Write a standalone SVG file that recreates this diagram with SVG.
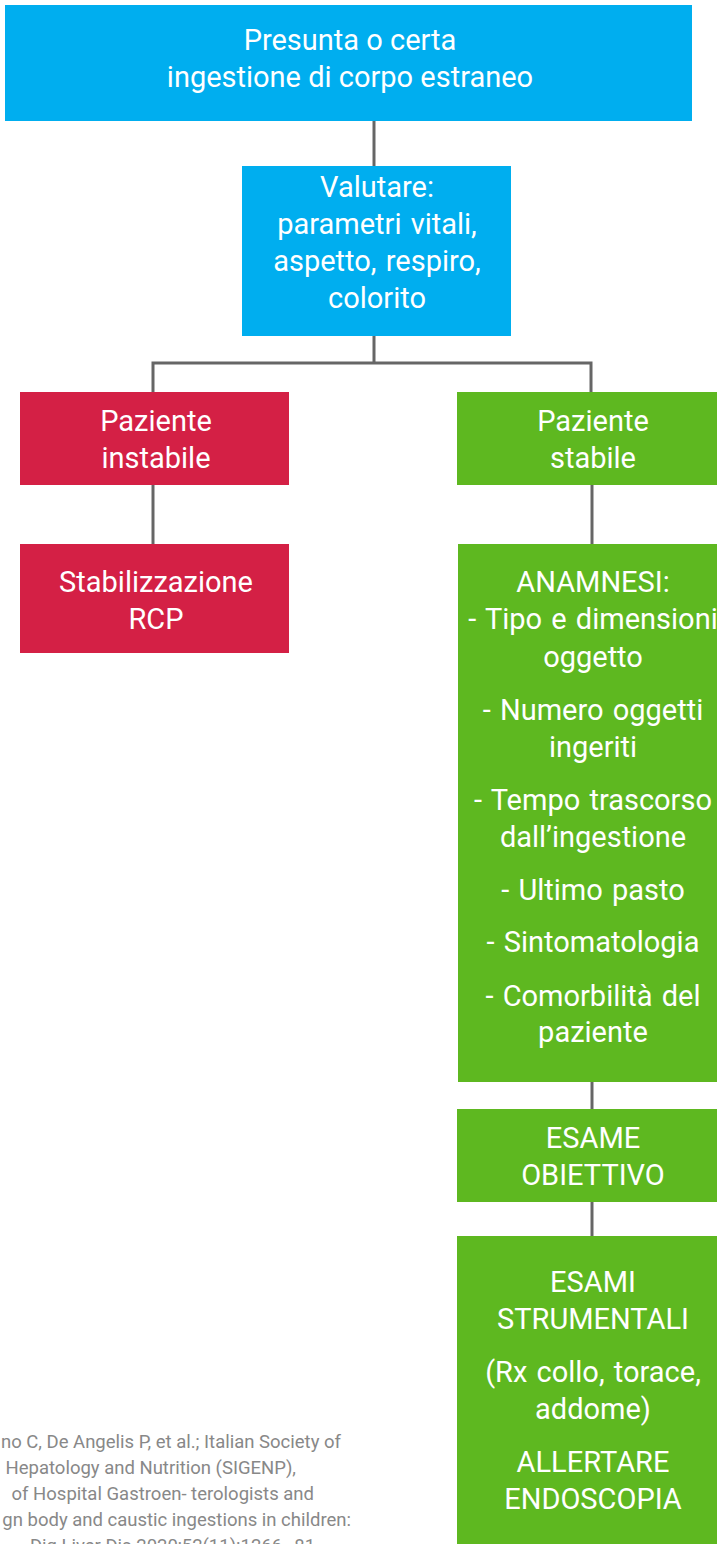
<svg xmlns="http://www.w3.org/2000/svg" width="717" height="1544" viewBox="0 0 717 1544">
<style>
.t{font-family:Roboto,"Noto Sans",sans-serif;font-size:29px;fill:#fff;text-anchor:middle;word-spacing:2px}
.t1{font-size:29px;word-spacing:0}
.blue{fill:#00AEEF}.red{fill:#D42045}.green{fill:#5EB820}
.c{stroke:#666;stroke-width:3;fill:none}
.cit{font-family:Roboto,"Noto Sans",sans-serif;font-size:18.5px;fill:#888;text-anchor:end}
</style>
<rect width="717" height="1544" fill="#fff"/>
<g id="connectors">
<line class="c" x1="374" y1="121" x2="374" y2="166"/>
<path class="c" d="M374 336V363M153 392V363H591V392"/>
<line class="c" x1="153" y1="485" x2="153" y2="544"/>
<line class="c" x1="592" y1="485" x2="592" y2="544"/>
<line class="c" x1="592" y1="1082" x2="592" y2="1109"/>
<line class="c" x1="592" y1="1202" x2="592" y2="1236"/>
</g>
<g id="n1"><rect class="blue" x="5" y="5" width="687" height="116"/>
<text class="t t1" x="350" y="50">Presunta o certa</text>
<text class="t t1" x="350" y="87">ingestione di corpo estraneo</text></g>
<g id="n2"><rect class="blue" x="242" y="166" width="269" height="170"/>
<text class="t" x="377" y="197">Valutare:</text>
<text class="t" x="377" y="234">parametri vitali,</text>
<text class="t" x="377" y="271">aspetto, respiro,</text>
<text class="t" x="377" y="308">colorito</text></g>
<g id="n3"><rect class="red" x="20" y="392" width="269" height="93"/>
<text class="t" x="156" y="431">Paziente</text>
<text class="t" x="156" y="468">instabile</text></g>
<g id="n4"><rect class="green" x="457" y="392" width="270" height="93"/>
<text class="t" x="593" y="431">Paziente</text>
<text class="t" x="593" y="468">stabile</text></g>
<g id="n5"><rect class="red" x="20" y="544" width="269" height="109"/>
<text class="t" x="156" y="592">Stabilizzazione</text>
<text class="t" x="156" y="629">RCP</text></g>
<g id="n6"><rect class="green" x="458" y="544" width="269" height="538"/>
<text class="t" x="593" y="592">ANAMNESI:</text>
<text class="t" x="593" y="629">- Tipo e dimensioni</text>
<text class="t" x="593" y="667">oggetto</text>
<text class="t" x="593" y="720">- Numero oggetti</text>
<text class="t" x="593" y="757">ingeriti</text>
<text class="t" x="593" y="810">- Tempo trascorso</text>
<text class="t" x="593" y="847">dall’ingestione</text>
<text class="t" x="593" y="900">- Ultimo pasto</text>
<text class="t" x="593" y="952">- Sintomatologia</text>
<text class="t" x="593" y="1006">- Comorbilità del</text>
<text class="t" x="593" y="1042">paziente</text></g>
<g id="n7"><rect class="green" x="457" y="1109" width="270" height="93"/>
<text class="t" x="593" y="1148">ESAME</text>
<text class="t" x="593" y="1185">OBIETTIVO</text></g>
<g id="n8"><rect class="green" x="457" y="1236" width="270" height="320"/>
<text class="t" x="593" y="1292">ESAMI</text>
<text class="t" x="593" y="1329">STRUMENTALI</text>
<text class="t" x="593" y="1382">(Rx collo, torace,</text>
<text class="t" x="593" y="1419">addome)</text>
<text class="t" x="593" y="1472">ALLERTARE</text>
<text class="t" x="593" y="1509">ENDOSCOPIA</text></g>
<g id="citation">
<text class="cit" x="341" y="1448">no C, De Angelis P, et al.; Italian Society of</text>
<text class="cit" x="296" y="1474">Hepatology and Nutrition (SIGENP),</text>
<text class="cit" x="314" y="1500">of Hospital Gastroen- terologists and</text>
<text class="cit" x="351" y="1526">gn body and caustic ingestions in children:</text>
<text class="cit" x="320" y="1552">Dig Liver Dis 2020;52(11):1266–81.</text>
</g>
</svg>
